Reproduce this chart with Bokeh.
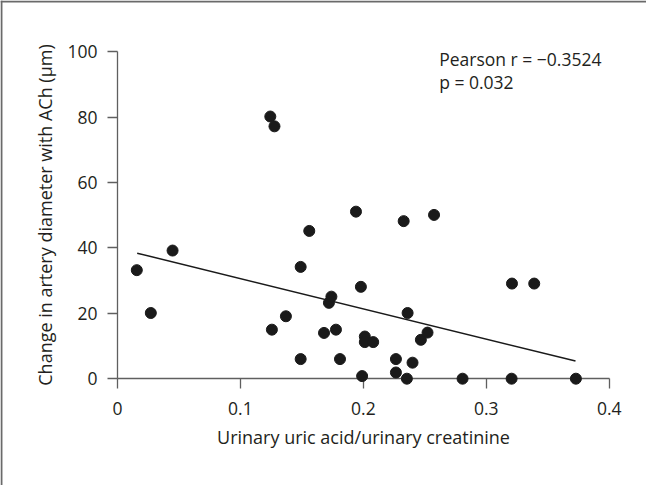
from bokeh.plotting import figure
from bokeh.models import Range1d, FixedTicker, Span, Label
from bokeh.embed import file_html
from bokeh.resources import INLINE

# ---- data ----
uric_ratio = [0.0157, 0.0271, 0.0448, 0.1243, 0.1277, 0.1256, 0.137, 0.149, 0.149, 0.156,
              0.168, 0.172, 0.174, 0.1777, 0.181, 0.194, 0.198, 0.199, 0.2012, 0.2012,
              0.208, 0.2265, 0.2265, 0.2328, 0.2354, 0.236, 0.240, 0.2468, 0.2522, 0.2575,
              0.2807, 0.3206, 0.3209, 0.339, 0.3729]
ach_change = [33.2, 20.1, 39.2, 80.2, 77.2, 15.0, 19.1, 34.2, 6.0, 45.2,
              14.0, 23.2, 25.1, 15.0, 6.0, 51.1, 28.1, 0.8, 12.9, 11.2,
              11.2, 6.0, 1.9, 48.2, 0.0, 20.1, 4.9, 11.9, 14.1, 50.1,
              0.0, 0.0, 29.1, 29.1, 0.0]
fit_x = [0.016, 0.3726]
fit_y = [38.4, 5.4]

x_ticks = [0, 0.1, 0.2, 0.3, 0.4]
x_tick_labels = ["0", "0.1", "0.2", "0.3", "0.4"]
y_ticks = [0, 20, 40, 60, 80, 100]
y_tick_labels = ["0", "20", "40", "60", "80", "100"]
stats_lines = ["Pearson r = \u22120.3524", "p = 0.032"]

x_title = "Urinary uric acid/urinary creatinine"
y_title = "Change in artery diameter with ACh (\u03bcm)"

FONT = "Open Sans"
TXT = "#231f20"
AX = "#5f5f5f"

W, H = 646, 485
p = figure(width=W, height=H, output_backend="svg", toolbar_location=None,
           x_range=Range1d(-0.09518, 0.43034), y_range=Range1d(-32.67, 115.69),
           min_border=0, min_border_left=0, min_border_right=0,
           min_border_top=0, min_border_bottom=0)
p.outline_line_color = None
p.grid.visible = False
p.background_fill_color = "white"
p.border_fill_color = "white"

for ax in (p.xaxis[0], p.yaxis[0]):
    ax.fixed_location = 0
    ax.axis_line_color = AX
    ax.axis_line_width = 1.3
    ax.major_tick_line_color = AX
    ax.major_tick_line_width = 1.3
    ax.major_tick_out = 10
    ax.major_tick_in = 0
    ax.minor_tick_line_color = None
    ax.major_label_text_font = FONT
    ax.major_label_text_font_size = "17.5px"
    ax.major_label_text_color = TXT
    ax.axis_label_text_font = FONT
    ax.axis_label_text_font_size = "18px"
    ax.axis_label_text_font_style = "normal"
    ax.axis_label_text_color = TXT
    ax.level = "underlay"

p.xaxis[0].bounds = (0, 0.4)
p.xaxis[0].ticker = FixedTicker(ticks=x_ticks)
p.xaxis[0].major_label_overrides = dict(zip(x_ticks, x_tick_labels))
p.xaxis[0].major_label_standoff = 13
p.xaxis[0].axis_label = x_title
p.xaxis[0].axis_label_standoff = 7

p.yaxis[0].bounds = (0, 100)
p.yaxis[0].ticker = FixedTicker(ticks=y_ticks)
p.yaxis[0].major_label_overrides = dict(zip(y_ticks, y_tick_labels))
p.yaxis[0].major_label_standoff = 10
p.yaxis[0].axis_label = y_title
p.yaxis[0].axis_label_standoff = 7

# page border (left and top)
p.add_layout(Span(location=-0.0944, dimension="height", line_color="#6a6a6a", line_width=2))
p.add_layout(Span(location=115.4, dimension="width", line_color="#6a6a6a", line_width=2))

p.line(fit_x, fit_y, line_color="#1a1a1a", line_width=1.5)
p.scatter(uric_ratio, ach_change, size=11, fill_color="#1a1a1a", line_color="#1a1a1a")

for txt, yy in zip(stats_lines, [97.7, 90.8]):
    p.add_layout(Label(x=0.2617, y=yy, text=txt, text_font=FONT, text_font_size="17.5px",
                       text_color=TXT, text_baseline="alphabetic", text_align="left"))

open("out.html", "w").write(file_html(p, INLINE))
